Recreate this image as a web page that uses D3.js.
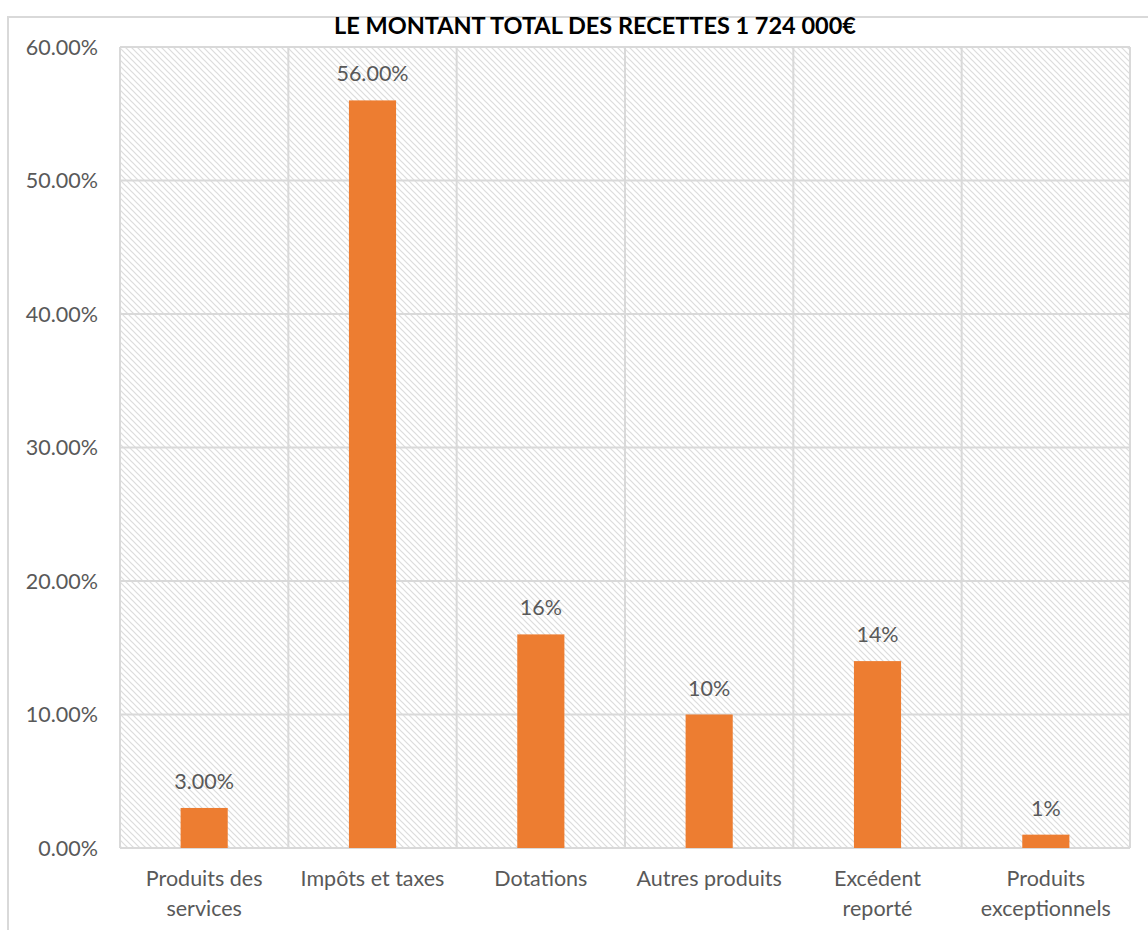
<!DOCTYPE html>
<html>
<head>
<meta charset="utf-8">
<script src="https://cdn.jsdelivr.net/npm/d3@7"></script>
<style>
  body { margin: 0; background: #fff; }
  text { font-family: Lato, "Open Sans", sans-serif; }
</style>
</head>
<body>
<div id="chart"></div>
<script>
var width = 1148;
var height = 930;

// data
var categories = [
  ["Produits des", "services"],
  ["Impôts et taxes"],
  ["Dotations"],
  ["Autres produits"],
  ["Excédent", "reporté"],
  ["Produits", "exceptionnels"]
];
var values = [3, 56, 16, 10, 14, 1];
var valueLabels = ["3.00%", "56.00%", "16%", "10%", "14%", "1%"];
var yTicks = [0, 10, 20, 30, 40, 50, 60];
var title = "LE MONTANT TOTAL DES RECETTES 1 724 000€";

var plot = { left: 120, right: 1130, top: 47, bottom: 848 };

var svg = d3.select("#chart")
  .append("svg")
  .attr("width", width)
  .attr("height", height);

var defs = svg.append("defs");
var pat = defs.append("pattern")
  .attr("id", "hatch")
  .attr("patternUnits", "userSpaceOnUse")
  .attr("width", 6)
  .attr("height", 6);
pat.append("rect").attr("width", 6).attr("height", 6).attr("fill", "#fff");
pat.append("path")
  .attr("d", "M-1,-1 L7,7 M-1,5 L1,7 M5,-1 L7,1")
  .attr("stroke", "#dcdcdc")
  .attr("stroke-width", 1.2);

// chart border (only top and left visible)
svg.append("path")
  .attr("d", "M8,930 L8,17 L1148,17")
  .attr("fill", "none")
  .attr("stroke", "#d9d9d9")
  .attr("stroke-width", 2);

var x = d3.scaleBand()
  .domain(d3.range(categories.length))
  .range([plot.left, plot.right])
  .paddingInner(0)
  .paddingOuter(0);

var y = d3.scaleLinear()
  .domain([0, 60])
  .range([plot.bottom, plot.top]);

// plot area background
svg.append("rect")
  .attr("x", plot.left)
  .attr("y", plot.top)
  .attr("width", plot.right - plot.left)
  .attr("height", plot.bottom - plot.top)
  .attr("fill", "url(#hatch)");

// horizontal gridlines
svg.selectAll(".hgrid")
  .data(yTicks)
  .enter()
  .append("line")
  .attr("x1", plot.left)
  .attr("x2", plot.right)
  .attr("y1", function(d) { return y(d); })
  .attr("y2", function(d) { return y(d); })
  .attr("stroke", "#d9d9d9")
  .attr("stroke-width", 2);

// vertical gridlines at category boundaries
var bounds = d3.range(categories.length + 1).map(function(i) {
  return plot.left + i * x.step();
});
svg.selectAll(".vgrid")
  .data(bounds)
  .enter()
  .append("line")
  .attr("x1", function(d) { return d; })
  .attr("x2", function(d) { return d; })
  .attr("y1", plot.top)
  .attr("y2", plot.bottom)
  .attr("stroke", "#d9d9d9")
  .attr("stroke-width", 2);

// y axis labels
svg.selectAll(".ylab")
  .data(yTicks)
  .enter()
  .append("text")
  .attr("x", 98)
  .attr("y", function(d) { return y(d); })
  .attr("dy", "0.35em")
  .attr("text-anchor", "end")
  .attr("font-size", 21.5)
  .attr("fill", "#595959")
  .text(function(d) { return d.toFixed(2) + "%"; });

// bars
var barW = x.bandwidth() * 0.28;
svg.selectAll(".bar")
  .data(values)
  .enter()
  .append("rect")
  .attr("x", function(d, i) { return x(i) + x.bandwidth() / 2 - barW / 2; })
  .attr("y", function(d) { return y(d); })
  .attr("width", barW)
  .attr("height", function(d) { return y(0) - y(d); })
  .attr("fill", "#ed7d31");

// value labels
svg.selectAll(".vlab")
  .data(values)
  .enter()
  .append("text")
  .attr("x", function(d, i) { return x(i) + x.bandwidth() / 2; })
  .attr("y", function(d) { return y(d) - 19; })
  .attr("text-anchor", "middle")
  .attr("font-size", 21.5)
  .attr("fill", "#595959")
  .text(function(d, i) { return valueLabels[i]; });

// category labels
var catG = svg.selectAll(".cat")
  .data(categories)
  .enter()
  .append("text")
  .attr("text-anchor", "middle")
  .attr("font-size", 21.5)
  .attr("fill", "#595959");
catG.each(function(lines, i) {
  var t = d3.select(this);
  lines.forEach(function(l, j) {
    t.append("tspan")
      .attr("x", x(i) + x.bandwidth() / 2)
      .attr("y", 886 + j * 30)
      .text(l);
  });
});

// title
svg.append("text")
  .attr("x", 595)
  .attr("y", 34)
  .attr("text-anchor", "middle")
  .attr("font-size", 23.5)
  .attr("font-weight", "bold")
  .attr("fill", "#000")
  .text(title);
</script>
</body>
</html>
